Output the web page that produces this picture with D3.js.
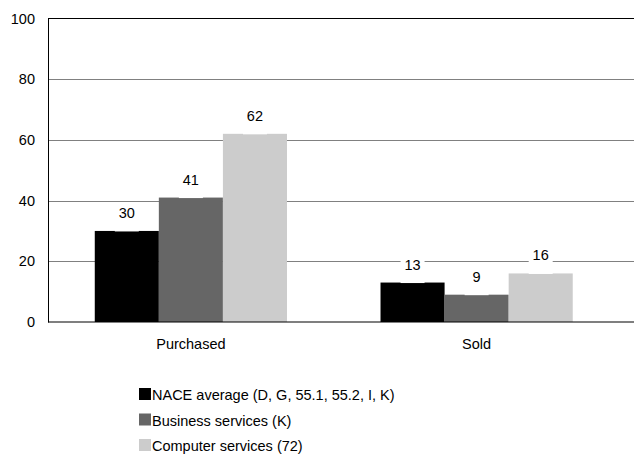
<!DOCTYPE html>
<html><head><meta charset="utf-8">
<script src="https://cdn.jsdelivr.net/npm/d3@7"></script>
<style>body{margin:0;background:#fff}text{font-family:Arial,"Liberation Sans",sans-serif;}</style>
</head><body><svg id="c" width="634" height="456"></svg>
<script>
const categories = ["Purchased", "Sold"];
const seriesNames = ["NACE average (D, G, 55.1, 55.2, I, K)", "Business services (K)", "Computer services (72)"];
const seriesColors = ["#000000", "#666666", "#cccccc"];
const nace = [30, 13];
const business = [41, 9];
const computer = [62, 16];
const yTicks = [0, 20, 40, 60, 80, 100];

(function () {
const FS = 14.5;
const seriesValues = [nace, business, computer];
const svg = d3.select("#c");
const mLeft = 48, mTop = 18.5, mBottom = 322, mRight = 619.5, lineEnd = 634;

const x = d3.scaleBand().domain(categories).range([mLeft, mRight]).paddingInner(0).paddingOuter(0);
const x1 = d3.scaleBand().domain(d3.range(seriesNames.length)).range([0, x.bandwidth()]).paddingInner(0).paddingOuter(0.73);
const y = d3.scaleLinear().domain([0, 100]).range([mBottom, mTop]);

// gridlines
svg.append("g").selectAll("line").data(yTicks.filter(t => t > 0 && t < 100)).join("line")
  .attr("x1", mLeft).attr("x2", lineEnd)
  .attr("y1", d => Math.round(y(d)) + 0.5).attr("y2", d => Math.round(y(d)) + 0.5)
  .attr("stroke", "#808080").attr("stroke-width", 1);
// top line
svg.append("line").attr("x1", mLeft).attr("x2", lineEnd).attr("y1", y(100)).attr("y2", y(100)).attr("stroke", "#000").attr("stroke-width", 1);

// y axis
const yAxis = d3.axisLeft(y).tickValues(yTicks).tickSize(0).tickPadding(13);
const gy = svg.append("g").attr("transform", `translate(${mLeft},0)`).call(yAxis);
gy.select(".domain").attr("stroke", "#000");
gy.selectAll("text").attr("font-size", FS).attr("fill", "#000").attr("font-family", "Arial, 'Liberation Sans', sans-serif");

// bars
const groups = svg.append("g").selectAll("g").data(categories).join("g")
  .attr("transform", d => `translate(${x(d)},0)`);
groups.each(function(cat, ci) {
  const g = d3.select(this);
  seriesValues.forEach((vals, si) => {
    const v = vals[ci];
    g.append("rect").attr("x", x1(si)).attr("width", x1.bandwidth())
      .attr("y", y(v)).attr("height", y(0) - y(v)).attr("fill", seriesColors[si]);
  });
  seriesValues.forEach((vals, si) => {
    const v = vals[ci];
    const cx = x1(si) + x1.bandwidth() / 2;
    const by = y(v) - 13;
    g.append("rect").attr("x", cx - 12).attr("width", 24).attr("y", by - 14)
      .attr("height", y(v) - (by - 14) + 0.5).attr("fill", "#fff");
    g.append("text").attr("x", cx).attr("y", by).attr("text-anchor", "middle")
      .attr("font-size", FS).attr("fill", "#000").text(v);
  });
});

// x axis
svg.append("line").attr("x1", mLeft).attr("x2", lineEnd).attr("y1", mBottom).attr("y2", mBottom).attr("stroke", "#000").attr("stroke-width", 1.2);
const xAxis = d3.axisBottom(x).tickSize(0).tickPadding(17);
const gx = svg.append("g").attr("transform", `translate(0,${mBottom})`).call(xAxis);
gx.select(".domain").remove();
gx.selectAll("text").attr("font-size", FS).attr("fill", "#000").attr("font-family", "Arial, 'Liberation Sans', sans-serif");

// legend
const leg = svg.append("g").attr("transform", "translate(139,388)");
seriesNames.forEach((n, i) => {
  leg.append("rect").attr("x", 0).attr("y", i * 25.5).attr("width", 12).attr("height", 12).attr("fill", seriesColors[i]);
  leg.append("text").attr("x", 13).attr("y", i * 25.5 + 12).attr("font-size", FS).attr("fill", "#000").text(n);
});
})();
</script></body></html>
